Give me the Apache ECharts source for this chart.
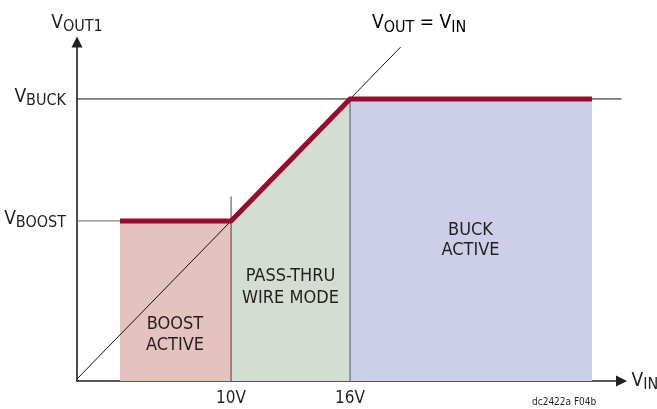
<!DOCTYPE html>
<html>
<head>
<meta charset="utf-8">
<script src="https://cdn.jsdelivr.net/npm/echarts@6/dist/echarts.min.js"></script>
<style>html,body{margin:0;padding:0;background:#fff}#c{width:657px;height:409px}</style>
</head>
<body>
<div id="c"></div>
<script>
// ---- data (volts) ----
const xMin = 2.23, xMax = 29.69;
const yMin = 2.13, yMax = 18.8;
const boostLevel = 10;      // V_BOOST
const buckLevel = 16;       // V_BUCK
const xTickValues = [10, 16];
const xTickLabels = ['10V', '16V'];
const yTickValues = [10, 16];
const yTickSubs = ['BOOST', 'BUCK'];
const outputCurve = [[4.4, 10], [10, 10], [16, 16], [28.2, 16]];
const boostRegion = [[4.4, 10], [10, 10]];
const passRegion = [[10, 10], [16, 16]];
const buckRegion = [[16, 16], [28.2, 16]];
const unityLine = [[2.25, 2.25], [18.55, 18.55]];
const buckRef = [[2.23, 16], [29.69, 16]];
const boostRef = [[2.23, 10], [4.4, 10]];
const tenVLine = [[10, 2.13], [10, 11.2]];
const sixteenVLine = [[16, 2.13], [16, 16]];
const regionLabels = ['BOOST\nACTIVE', 'PASS-THRU\nWIRE MODE', 'BUCK\nACTIVE'];

const FONT = "'Liberation Sans Narrow','Arial Narrow','DejaVu Sans Condensed',sans-serif";
const TXT = '#231f20';
const rich = {
  v: { fontFamily: FONT, fontSize: 19, lineHeight: 24, color: TXT },
  s: { fontFamily: FONT, fontSize: 16, lineHeight: 14, verticalAlign: 'bottom', color: TXT }
};

function lineSeries(data, color, width, z, extra) {
  return Object.assign({
    type: 'line', data: data, symbol: 'none', silent: true, animation: false, z: z,
    lineStyle: { color: color, width: width }
  }, extra || {});
}
function areaSeries(data, color, z) {
  return {
    type: 'line', data: data, symbol: 'none', silent: true, animation: false, z: z,
    lineStyle: { width: 0 }, areaStyle: { color: color, opacity: 1, origin: 'start' }
  };
}

const chart = echarts.init(document.getElementById('c'), null, { renderer: 'canvas' });
chart.setOption({
  backgroundColor: '#fff',
  animation: false,
  grid: { left: 77, right: 35.5, top: 42, bottom: 28, containLabel: false, outerBoundsMode: 'none' },
  xAxis: {
    type: 'value', min: xMin, max: xMax,
    name: '{v|V}{s|IN}', nameLocation: 'end', nameGap: 10,
    nameTextStyle: { rich: rich },
    axisLine: { show: true, lineStyle: { color: TXT, width: 1.6 }, symbol: ['none', 'triangle'], symbolSize: [11, 11] },
    axisTick: { show: false },
    splitLine: { show: false },
    axisLabel: {
      customValues: xTickValues, margin: 9,
      fontFamily: FONT, fontSize: 17, color: TXT,
      formatter: v => xTickLabels[xTickValues.indexOf(v)]
    }
  },
  yAxis: {
    type: 'value', min: yMin, max: yMax,
    name: '{v|V}{s|OUT1}', nameLocation: 'end', nameGap: 7,
    nameTextStyle: { rich: rich },
    axisLine: { show: true, lineStyle: { color: TXT, width: 1.6 }, symbol: ['none', 'triangle'], symbolSize: [11, 11] },
    axisTick: { show: false },
    splitLine: { show: false },
    axisLabel: {
      customValues: yTickValues, margin: 11, padding: [0, 0, 4, 0],
      rich: rich,
      formatter: v => '{v|V}{s|' + yTickSubs[yTickValues.indexOf(v)] + '}'
    }
  },
  series: [
    areaSeries(boostRegion, '#e4c2bd', 1),
    areaSeries(passRegion, '#d3ddd1', 1),
    areaSeries(buckRegion, '#cdcfe9', 1),
    lineSeries(tenVLine, '#444', 1, 3),
    lineSeries(sixteenVLine, '#555', 1, 3),
    lineSeries(boostRef, '#666', 1, 3),
    lineSeries(buckRef, '#111', 1, 3),
    lineSeries(unityLine, '#111', 1, 4),
    lineSeries(outputCurve, '#990a30', 5, 6, { lineStyle: { color: '#990a30', width: 5, join: 'miter' } })
  ],
  graphic: [
    { type: 'text', left: 372, top: 14, z: 10, style: { text: '{v|V}{s|OUT}{v| = V}{s|IN}', rich: rich } },
    { type: 'text', z: 10, style: { x: 175, y: 335, text: regionLabels[0], align: 'center', verticalAlign: 'middle', fontFamily: FONT, fontSize: 18, lineHeight: 21, fill: TXT } },
    { type: 'text', z: 10, style: { x: 290.5, y: 287, text: regionLabels[1], align: 'center', verticalAlign: 'middle', fontFamily: FONT, fontSize: 18, lineHeight: 22, fill: TXT } },
    { type: 'text', z: 10, style: { x: 470.5, y: 240, text: regionLabels[2], align: 'center', verticalAlign: 'middle', fontFamily: FONT, fontSize: 18, lineHeight: 20, fill: TXT } },
    { type: 'text', z: 10, style: { x: 532, y: 402.5, text: 'dc2422a F04b', align: 'left', verticalAlign: 'middle', fontFamily: FONT, fontSize: 10, fill: TXT } }
  ]
});
</script>
</body>
</html>
